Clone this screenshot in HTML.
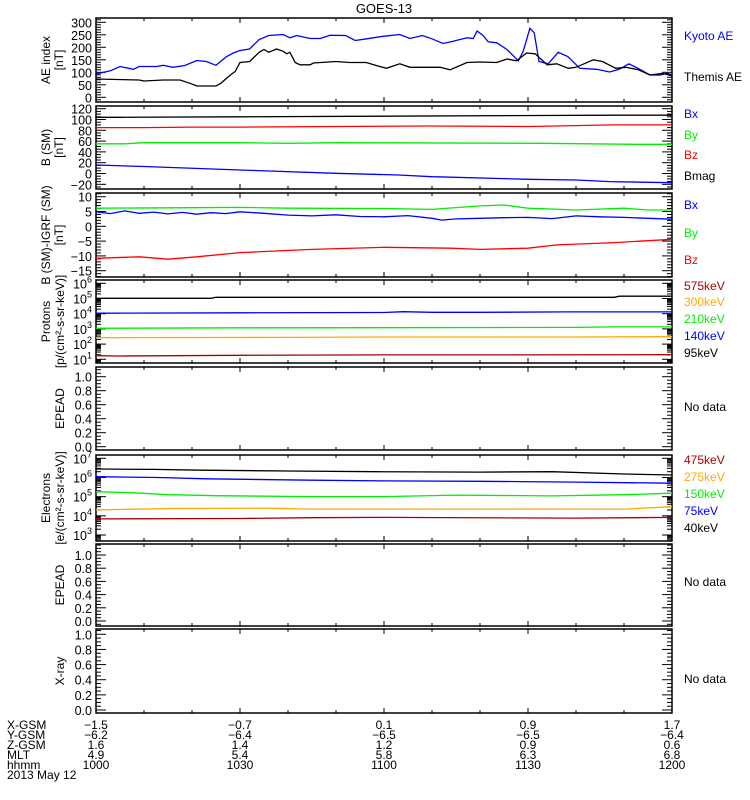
<!DOCTYPE html>
<html><head><meta charset="utf-8"><style>
html,body{margin:0;padding:0;background:#fff;}
svg{display:block;font-family:"Liberation Sans",sans-serif;}
</style></head><body>
<svg id="chart" width="750" height="800" viewBox="0 0 750 800" xmlns="http://www.w3.org/2000/svg">
<text x="384" y="13" font-size="13" text-anchor="middle">GOES-13</text>
<g id="panels"></g>
<g id="footer" font-size="12"></g>
</svg>
<script>
// ---------- data ----------
const tKyoto=[0,3,5,7.8,9,12.6,14,16,18.5,21,23,25,27.2,28.6,30,32,34,36,39,40.4,41.8,44.6,46.7,48.75,52,54,56.4,59.8,63.3,65.4,68,70,72.3,74.4,77.3,78.6,79.4,80.6,81.7,83.5,85.6,88,89,90.4,91.3,92.3,94.2,96.3,98.3,100.8,104.3,107,109,111,113.3,115.4,118,120];
const vKyoto=[93,106,123,112,123,123,128,120,127,147,143,128,163,177,187,193,231,247,251,238,247,235,235,248,247,227,234,244,251,235,247,234,215,224,238,235,265,248,222,218,191,146,184,276,258,143,134,180,163,116,112,101,112,134,112,89,96,85];
const tThemis=[0,9,10,14,17.5,19.6,21,25,26,28,29,30,32,34,35,36,37.6,39,39.7,40.4,41.5,42.5,44.6,45.3,50,52.8,56.3,58.4,60.5,63.3,65.4,71.7,73.75,77.3,80,83.5,85.6,87.6,89.7,91.5,94,96,98.4,100,103.6,105.5,108.3,110.4,113,115.4,117.5,119,120];
const vThemis=[73,69,65,69,69,56,45,45,56,89,103,139,143,180,191,180,193,184,174,180,139,130,130,137,143,139,139,127,116,134,120,120,110,139,141,139,153,146,177,174,130,134,116,120,150,143,116,120,110,89,89,96,89];

const tBx=[0,10,30,36,50,63,70,90,100,107,120];
const vBx=[15.7,13,6.5,4.6,0.4,-2.8,-6,-10.7,-12,-15,-17];
const tBy=[0,6,10,30,40,50,93,112,120];
const vBy=[55,55,57,57,56,57,56,54,54];
const tBz=[0,10,20,30,69,90,108,120];
const vBz=[85,85,86,86,88,87,90,90];
const tBmag=[0,5,30,108,120];
const vBmag=[104,104,105,108,108];

const tdBx=[0,3,6,9,12,15,18,21,24,27,30,35,40,45,50,55,60,65,70,72,75,80,85,90,95,100,105,110,115,120];
const vdBx=[4.9,4.3,5.2,4.4,4.8,4.2,4.7,4.1,4.6,4.3,4.9,4.4,3.8,3.5,3.9,3.3,3.2,3.6,2.7,2.1,2.5,2.7,2.9,3.0,2.6,3.5,3.2,3.0,2.7,2.4];
const tdBy=[0,20,30,40,60,70,80,85,90,100,110,115,120];
const vdBy=[6.1,6.3,6.4,6.1,6.0,5.7,6.9,7.2,6.1,5.5,6.1,5.5,5.5];
const tdBz=[0,9,15,21,30,45,60,74,80,90,96,108,120];
const vdBz=[-10.8,-10.3,-11.1,-10.3,-8.9,-7.8,-7.1,-7.4,-7.8,-7.4,-6.3,-5.5,-4.4];

// proton fluxes (log10)
const tP95=[0,24,25,108,109,120]; const vP95=[5.01,5.01,5.08,5.08,5.15,5.15];
const tP140=[0,30,60,64,70,80,98,120]; const vP140=[4.03,4.06,4.08,4.13,4.09,4.09,4.12,4.12];
const tP210=[0,30,60,100,108,120]; const vP210=[3.04,3.07,3.08,3.1,3.13,3.13];
const tP300=[0,40,60,100,120]; const vP300=[2.42,2.44,2.47,2.47,2.49];
const tP575=[0,5,30,60,80,120]; const vP575=[1.24,1.22,1.26,1.29,1.29,1.3];

// electron fluxes (log10)
const tE40=[0,12,22,40,58,80,95,110,120]; const vE40=[6.44,6.42,6.38,6.34,6.3,6.28,6.3,6.18,6.13];
const tE75=[0,13,23,45,60,80,100,120]; const vE75=[6.04,6.0,5.93,5.86,5.82,5.8,5.76,5.7];
const tE150=[0,8,15,25,45,60,75,95,110,120]; const vE150=[5.26,5.2,5.1,5.05,5.0,5.0,5.08,5.04,5.1,5.18];
const tE275=[0,16,35,45,70,110,118,120]; const vE275=[4.31,4.38,4.4,4.35,4.35,4.35,4.45,4.48];
const tE475=[0,30,45,60,100,120]; const vE475=[3.84,3.86,3.9,3.92,3.88,3.92];

const xTickLabels=["1000","1030","1100","1130","1200"];
const rowNames=["X-GSM","Y-GSM","Z-GSM","MLT","hhmm"];
const xgsm=["-1.5","-0.7","0.1","0.9","1.7"];
const ygsm=["-6.2","-6.4","-6.5","-6.5","-6.4"];
const zgsm=["1.6","1.4","1.2","0.9","0.6"];
const mlt=["4.9","5.4","5.8","6.3","6.8"];

// ---------- layout ----------
const NS="http://www.w3.org/2000/svg";
const X0=96,X1=672,TMAX=120;
function xs(t){return X0+(X1-X0)*t/TMAX;}
const root=document.getElementById('panels');
function mk(tag,attrs,parent){const e=document.createElementNS(NS,tag);for(const k in attrs)e.setAttribute(k,attrs[k]);(parent||root).appendChild(e);return e;}

const blue="#0000ff",green="#00ee00",red="#ff0000",orange="#ffaa00",dred="#aa0000";
const panels=[
 {name:"ae",top:18,bot:102,y0:0,p0:97.3,y1:300,p1:22.3,log:false,major:50,minor:10,lab:["AE index","[nT]"],
  series:[[tKyoto,vKyoto,blue,"kyoto-ae-line"],[tThemis,vThemis,"#000","themis-ae-line"]],
  legend:[["Kyoto AE",blue,36],["Themis AE","#000",77]]},
 {name:"b-sm",top:106,bot:189,y0:0,p0:173.5,y1:120,p1:108.7,log:false,major:20,minor:5,lab:["B (SM)","[nT]"],
  series:[[tBx,vBx,blue,"bx-line"],[tBy,vBy,green,"by-line"],[tBz,vBz,red,"bz-line"],[tBmag,vBmag,"#000","bmag-line"]],
  legend:[["Bx",blue,114],["By",green,135],["Bz",red,155],["Bmag","#000",176]]},
 {name:"b-igrf",top:193,bot:277,y0:0,p0:226.3,y1:10,p1:196.7,log:false,major:5,minor:1,lab:["B (SM)-IGRF (SM)","[nT]"],
  series:[[tdBx,vdBx,blue,"dbx-line"],[tdBy,vdBy,green,"dby-line"],[tdBz,vdBz,red,"dbz-line"]],
  legend:[["Bx",blue,205],["By",green,233],["Bz",red,260]]},
 {name:"protons",top:280,bot:363,y0:1,p0:359.3,y1:6,p1:283.3,log:true,lab:["Protons","[p/(cm\u00b2-s-sr-keV)]"],
  series:[[tP95,vP95,"#000","p95-line"],[tP140,vP140,blue,"p140-line"],[tP210,vP210,green,"p210-line"],[tP300,vP300,orange,"p300-line"],[tP575,vP575,dred,"p575-line"]],
  legend:[["575keV",dred,286],["300keV",orange,302],["210keV",green,319],["140keV",blue,336],["95keV","#000",353]]},
 {name:"epead-1",top:367,bot:450,y0:0,p0:446.7,y1:1,p1:376.7,log:false,major:0.2,minor:0.05,lab:["EPEAD"],series:[],
  legend:[["No data","#000",407]]},
 {name:"electrons",top:455,bot:541,y0:3,p0:535,y1:7,p1:458.3,log:true,lab:["Electrons","[e/(cm\u00b2-s-sr-keV)]"],
  series:[[tE40,vE40,"#000","e40-line"],[tE75,vE75,blue,"e75-line"],[tE150,vE150,green,"e150-line"],[tE275,vE275,orange,"e275-line"],[tE475,vE475,dred,"e475-line"]],
  legend:[["475keV",dred,460],["275keV",orange,477],["150keV",green,494],["75keV",blue,511],["40keV","#000",528]]},
 {name:"epead-2",top:544,bot:626,y0:0,p0:621,y1:1,p1:555,log:false,major:0.2,minor:0.05,lab:["EPEAD"],series:[],
  legend:[["No data","#000",582]]},
 {name:"xray",top:629,bot:713,y0:0,p0:710,y1:1,p1:634.3,log:false,major:0.2,minor:0.05,lab:["X-ray"],series:[],
  legend:[["No data","#000",679]]}
];

panels.forEach(P=>{
  const g=mk('g',{});
  
  
  const k=(P.p1-P.p0)/(P.y1-P.y0);
  const ys=v=>P.p0+(v-P.y0)*k;
  const vmin=P.y0+(P.bot-P.p0)/k, vmax=P.y0+(P.top-P.p0)/k;
  const fr=mk('rect',{x:X0,y:P.top,width:X1-X0,height:P.bot-P.top,fill:"none",stroke:"#000","stroke-width":1.5},g);
  
  
  for(let t=0;t<=TMAX;t+=10){
    const x=xs(t);const L=(t%30===0)?5:3;
    mk('line',{x1:x,x2:x,y1:P.bot,y2:P.bot-L,stroke:"#000"},g);
    mk('line',{x1:x,x2:x,y1:P.top,y2:P.top+L,stroke:"#000"},g);
  }
  const tick=(v,L,label)=>{
    const y=ys(v); if(y<P.top-0.5||y>P.bot+0.5)return;
    mk('line',{x1:X0,x2:X0+L,y1:y,y2:y,stroke:"#000"},g);
    mk('line',{x1:X1,x2:X1-L,y1:y,y2:y,stroke:"#000"},g);
    if(label!==undefined){
      const tx=mk('text',{x:92,y:y+5,"font-size":12.5,"text-anchor":"end"},g);
      
      
      if(P.log){tx.textContent="10";const s=mk('tspan',{dy:-6,"font-size":9},tx);s.textContent=label;}
      else tx.textContent=label;
    }
  };
  if(P.log){
    for(let d=Math.floor(vmin);d<=Math.ceil(vmax);d++){
      tick(d,10,String(d));
      for(let m=2;m<10;m++)tick(d+Math.log10(m),5);
    }
  } else {
    const n0=Math.ceil(vmin/P.minor-1e-6),n1=Math.floor(vmax/P.minor+1e-6);
    for(let i=n0;i<=n1;i++){
      const v=i*P.minor; const isMaj=Math.abs(v/P.major-Math.round(v/P.major))<1e-6;
      if(isMaj){const lbl=P.major<1?v.toFixed(1):String(Math.round(v)).replace('-','\u2212');tick(v,10,lbl);}
      else tick(v,5);
    }
  }
  const mid=(P.top+P.bot)/2;
  P.lab.forEach((s,i)=>{
    const xx=(P.lab.length===1?64:(P.log?50+i*14:50+i*13));
    const tx=mk('text',{x:xx,y:mid,"font-size":12,"text-anchor":"middle",transform:`rotate(-90 ${xx} ${mid})`},g);
    
    
    tx.textContent=s;
  });
  P.series.forEach(([ts,vs,c,nm])=>{
    const pts=ts.map((t,i)=>xs(t).toFixed(1)+","+ys(vs[i]).toFixed(1)).join(" ");
    const pl=mk('polyline',{points:pts,fill:"none",stroke:c,"stroke-width":1.3},g);
    
    
  });
  P.legend.forEach(([s,c,y])=>{
    const tx=mk('text',{x:684,y:y+4,"font-size":12,fill:c},g);
    
    
    tx.textContent=s;
  });
});

const foot=document.getElementById('footer');
const rowsY=[725,735,745,755,765];
const cols=[xgsm,ygsm,zgsm,mlt,xTickLabels];
rowNames.forEach((n,r)=>{
  const tx=mk('text',{x:7,y:rowsY[r]+4},foot);
  
  
  tx.textContent=n;
  cols[r].forEach((v,i)=>{
    const c=mk('text',{x:xs(i*30),y:rowsY[r]+4,"text-anchor":"middle"},foot);
    
    
    c.textContent=v.replace('-','\u2212');
  });
});
const dt=mk('text',{x:7,y:779},foot);


dt.textContent="2013 May 12";
</script>
</body></html>
